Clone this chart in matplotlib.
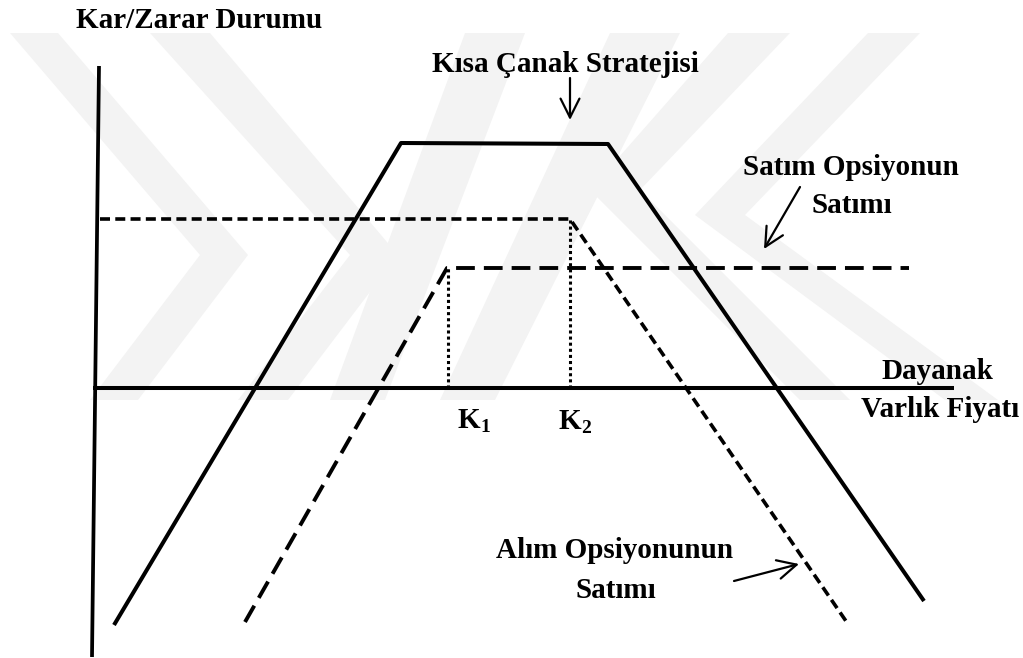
import matplotlib
matplotlib.use('Agg')
import matplotlib.pyplot as plt
from matplotlib.patches import Polygon

plt.rcParams['font.family'] = ['Liberation Serif', 'DejaVu Serif']
plt.rcParams['font.weight'] = 'bold'
plt.rcParams['lines.scale_dashes'] = False

# payoff lines: x = underlying price, y = profit/loss (origin where the axes cross)
strategy_x = [19, 306, 513, 829]
strategy_y = [-237, 245, 244, -213]
put_x = [150, 352, 814]
put_y = [-234, 120, 120]
call_x = [5, 475, 753]
call_y = [169, 169, -236]
k1, k2 = 353, 475
put_premium = 120
call_premium = 169

# axis lines
xaxis_x = [-2, 859]
yaxis_x = [4, -3]
yaxis_y = [322, -269]

# faint watermark shapes (pixel coords of the page)
watermark = [
    [(10, 33), (58, 33), (248, 255), (138, 400), (90, 400), (200, 255)],
    [(150, 33), (210, 33), (398, 255), (288, 400), (238, 400), (350, 255)],
    [(330, 400), (385, 400), (525, 33), (465, 33)],
    [(440, 400), (495, 400), (680, 33), (610, 33)],
    [(868, 33), (920, 33), (745, 215), (998, 400), (945, 400), (695, 215)],
    [(728, 33), (790, 33), (640, 190), (850, 400), (800, 400), (590, 190)],
]

fig = plt.figure(figsize=(10.23, 6.58), dpi=100)

bg = fig.add_axes([0, 0, 1, 1])
bg.set_xlim(0, 1023)
bg.set_ylim(658, 0)
bg.axis('off')
for poly in watermark:
    bg.add_patch(Polygon(poly, closed=True, facecolor='#f3f3f3', edgecolor='none'))

ax = fig.add_axes([0, 0, 1, 1])
ax.set_xlim(-95, 928)
ax.set_ylim(-270, 388)
ax.axis('off')
ax.patch.set_alpha(0)

ax.plot(xaxis_x, [0, 0], color='black', lw=2.9, solid_capstyle='butt')
ax.plot(yaxis_x, yaxis_y, color='black', lw=2.7, solid_capstyle='butt')

ax.plot(strategy_x, strategy_y, color='black', lw=2.9, solid_capstyle='butt')
ax.plot(put_x, put_y, color='black', lw=2.8, dashes=(13.5, 6.5))
ax.plot(call_x, call_y, color='black', lw=2.6, dashes=(7.2, 3.8))

ax.plot([k1, k1], [0, put_premium], color='black', lw=2.2, dashes=(2.2, 2.2))
ax.plot([k2, k2], [0, call_premium], color='black', lw=2.2, dashes=(2.2, 2.2))

fs = 21
ax.text(104, 360, 'Kar/Zarar Durumu', ha='center', va='baseline', fontsize=fs)
ax.text(470, 316, 'Kısa Çanak Stratejisi', ha='center', va='baseline', fontsize=fs)
ax.text(756, 213, 'Satım Opsiyonun', ha='center', va='baseline', fontsize=fs)
ax.text(757, 175, 'Satımı', ha='center', va='baseline', fontsize=fs)
ax.text(842, 9, 'Dayanak', ha='center', va='baseline', fontsize=fs)
ax.text(845, -29, 'Varlık Fiyatı', ha='center', va='baseline', fontsize=fs)
ax.text(520, -170, 'Alım Opsiyonunun', ha='center', va='baseline', fontsize=fs)
ax.text(521, -210, 'Satımı', ha='center', va='baseline', fontsize=fs)

ax.text(385, -40, 'K', ha='right', va='baseline', fontsize=fs)
ax.text(385, -44, '1', ha='left', va='baseline', fontsize=14)
ax.text(486, -41, 'K', ha='right', va='baseline', fontsize=fs)
ax.text(486, -45, '2', ha='left', va='baseline', fontsize=14)

arrow = dict(arrowstyle='->', lw=1.6, color='black', mutation_scale=34,
             shrinkA=0, shrinkB=0)
ax.annotate('', xy=(475, 268), xytext=(475, 310), arrowprops=arrow)
ax.annotate('', xy=(669, 139), xytext=(705, 201), arrowprops=arrow)
ax.annotate('', xy=(704, -176), xytext=(639, -193), arrowprops=arrow)

fig.savefig('out.png', dpi=100)
